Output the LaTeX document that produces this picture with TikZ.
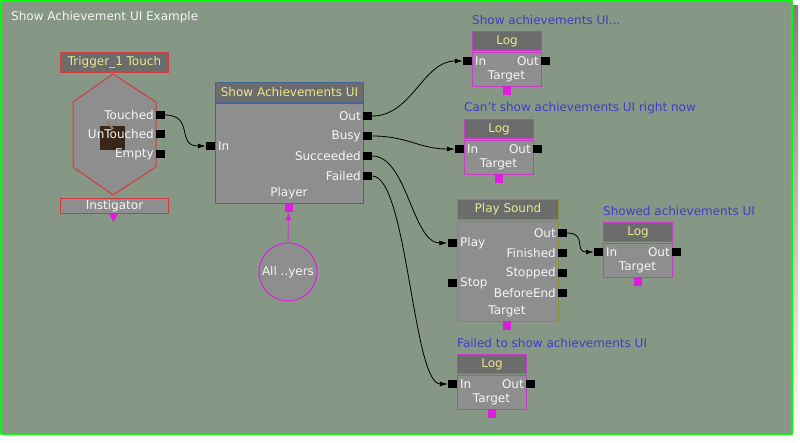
\documentclass[tikz,border=0pt]{standalone}
\usepackage{fontspec}
\setmainfont{DejaVu Sans}
\usetikzlibrary{arrows.meta,positioning}
\definecolor{canvas}{RGB}{134,151,134}
\definecolor{frame}{RGB}{0,255,0}
\definecolor{shade}{RGB}{105,105,105}
\definecolor{headfill}{RGB}{108,108,108}
\definecolor{bodyfill}{RGB}{142,142,142}
\definecolor{headtext}{RGB}{232,232,140}
\definecolor{porttext}{RGB}{245,245,245}
\definecolor{logtext}{RGB}{62,62,200}
\definecolor{varcol}{RGB}{222,30,222}
\definecolor{logline}{RGB}{200,60,200}
\definecolor{saline}{RGB}{70,100,150}
\definecolor{psline}{RGB}{140,140,50}
\definecolor{trigline}{RGB}{210,60,60}
\definecolor{icon}{RGB}{55,38,25}

\begin{document}
\begin{tikzpicture}[x=1pt,y=-1pt, line join=round,
  every node/.style={font=\fontsize{12}{14}\selectfont, inner sep=0pt},
  head/.style={draw=#1, line width=1pt, fill=headfill, text=headtext, anchor=north west},
  body/.style={draw=#1, line width=1pt, fill=bodyfill, anchor=north west},
  lbl/.style={text=porttext},
  note/.style={text=logtext, anchor=west},
  port/.style={fill=black, minimum width=9, minimum height=8},
  varport/.style={fill=varcol, minimum width=8, minimum height=9},
  link/.style={black, line width=0.8pt, -{Latex[length=8pt,width=5pt]}}]

  % canvas
  \fill[white] (0,0) rectangle (800,443);
  \fill[shade] (6,6) rectangle (798,441);
  \draw[frame, line width=2pt, fill=canvas] (1,1) rectangle (792,434);
  \node[lbl, anchor=west] (caption) at (11,17) {Show Achievement UI Example};

  % trigger event
  \node[head=trigline, minimum width=108, minimum height=20] (trig-head) at (60,52) {Trigger\_1 Touch};
  \draw[trigline, line width=1pt, fill=bodyfill] (113,74) -- (156,102) -- (156,167) -- (113,195) -- (73,167) -- (73,102) -- cycle;
  \fill[icon] (100,126) rectangle (125,150);
  \draw[icon!60!white, line width=2pt] (107,122) -- (113,129);
  \node[lbl, anchor=east] at (154,115) {Touched};
  \node[lbl, anchor=east] at (154,134) {UnTouched};
  \node[lbl, anchor=east] at (154,154) {Empty};
  \node[port] (trig-touched) at (160,115) {};
  \node[port] (trig-untouched) at (160,134) {};
  \node[port] (trig-empty) at (160,154) {};
  \node[body=trigline, lbl, minimum width=108, minimum height=15] (instig) at (60,198) {Instigator};
  \fill[varcol] (109,214) -- (118,214) -- (113.5,222) -- cycle;

  % show achievements UI
  \node[head=saline, minimum width=148, minimum height=20] (sa-head) at (215,82) {Show Achievements UI};
  \node[body=saline, minimum width=148, minimum height=100] (sa) at (215,103) {};
  \node[port] (sa-in) at (210.5,146) {};
  \node[lbl, anchor=west] at (218,146) {In};
  \foreach \name/\txt/\y in {out/Out/116, busy/Busy/136, succ/Succeeded/156, fail/Failed/176} {
    \node[lbl, anchor=east] at (361,\y) {\txt};
    \node[port] (sa-\name) at (367.5,\y) {};
  }
  \node[lbl] at (289,193) {Player};
  \node[varport] (sa-player) at (288.5,207.5) {};

  % player variable
  \node[circle, draw=varcol, line width=1pt, fill=bodyfill, lbl, minimum size=58] (allp) at (288,272) {All ..yers};
  \draw[varcol, line width=0.8pt, -{Latex[length=8pt,width=6pt]}] (allp.north) -- (sa-player.south);

  % play sound
  \node[head=psline, minimum width=101, minimum height=20] (ps-head) at (457,199) {Play Sound};
  \node[body=psline, minimum width=101, minimum height=100] (ps) at (457,221) {};
  \node[port] (ps-play) at (452,243) {};
  \node[port] (ps-stop) at (452,283) {};
  \node[lbl, anchor=west] at (460,243) {Play};
  \node[lbl, anchor=west] at (460,283) {Stop};
  \foreach \name/\txt/\y in {out/Out/233, fin/Finished/253, stop/Stopped/273, end/BeforeEnd/293} {
    \node[lbl, anchor=east] at (556,\y) {\txt};
    \node[port] (ps-\name) at (562.5,\y) {};
  }
  \node[lbl] at (507,311) {Target};
  \node[varport] (ps-target) at (507,325.5) {};

  % log actions
  \foreach \i/\x/\y/\txt in {1/472/31/{Show achievements UI...}, 2/464/119/{Can't show achievements UI right now},
      3/603/222/{Showed achievements UI}, 4/457/354/{Failed to show achievements UI}} {
    \begin{scope}[shift={(\x,\y)}]
      \node[note] (log\i-note) at (0,-11) {\txt};
      \node[head=logline, minimum width=69, minimum height=19] (log\i-head) at (0,0) {Log};
      \node[body=logline, minimum width=69, minimum height=34] (log\i) at (0,21) {};
      \node[port] (log\i-in) at (-4.5,30) {};
      \node[port] (log\i-out) at (73.5,30) {};
      \node[lbl, anchor=west] at (3,30) {In};
      \node[lbl, anchor=east] at (67,30) {Out};
      \node[lbl] at (34.5,45) {Target};
      \node[varport] (log\i-target) at (34.5,59.5) {};
    \end{scope}
  }

  % links
  \draw[link] (trig-touched.east) .. controls +(30,0) and +(-30,0) .. (sa-in.west);
  \draw[link] (sa-out.east) .. controls +(40,0) and +(-40,0) .. (log1-in.west);
  \draw[link] (sa-busy.east) .. controls +(35,0) and +(-35,0) .. (log2-in.west);
  \draw[link] (sa-succ.east) .. controls +(35,0) and +(-35,0) .. (ps-play.west);
  \draw[link] (sa-fail.east) .. controls +(35,0) and +(-35,0) .. (log4-in.west);
  \draw[link] (ps-out.east) .. controls +(20,0) and +(-20,0) .. (log3-in.west);
\end{tikzpicture}
\end{document}
